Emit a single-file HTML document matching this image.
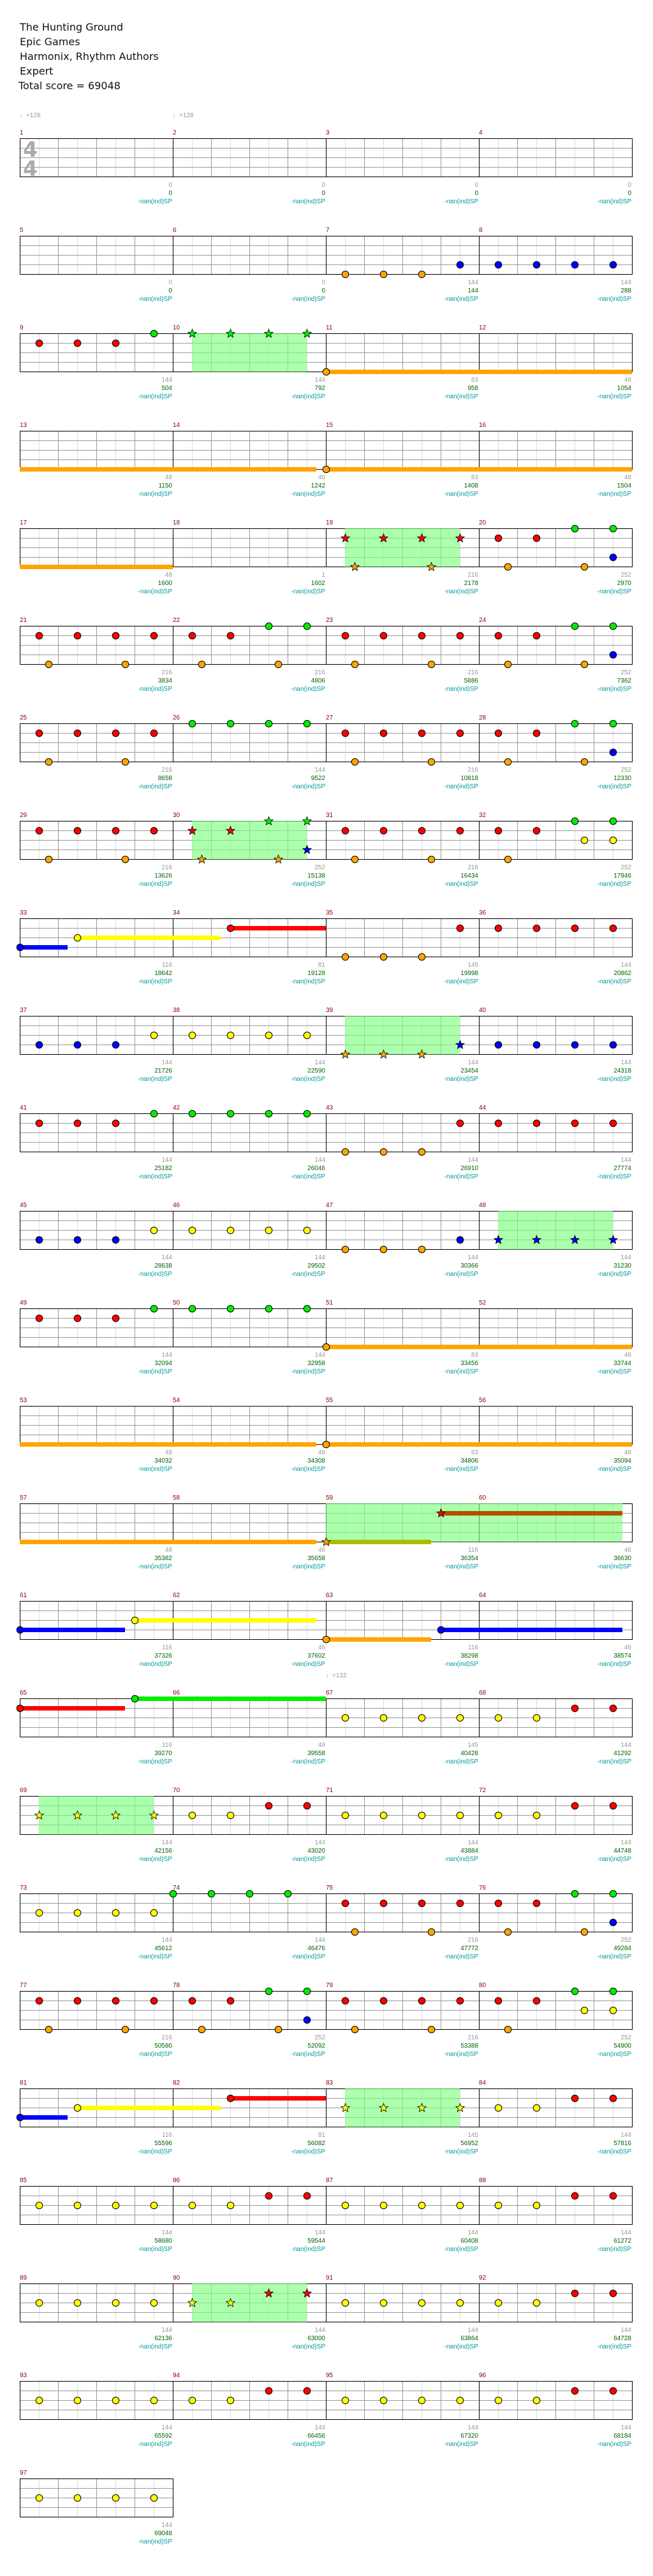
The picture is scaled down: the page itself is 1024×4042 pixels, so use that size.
<!DOCTYPE html>
<html><head><meta charset="utf-8">
<style>
html,body{margin:0;padding:0;background:#fff;}
svg{display:block;}
.t{font-family:"DejaVu Sans","Liberation Sans",sans-serif;font-size:16px;fill:#111;}
.s{font-family:"Liberation Sans",sans-serif;font-size:10px;}
</style></head>
<body>
<svg id="sv" xmlns="http://www.w3.org/2000/svg" width="1024" height="4042" viewBox="0 0 1024 4042">
<rect width="1024" height="4042" fill="#fff"/>
<text class="t" x="31" y="48">The Hunting Ground</text>
<text class="t" x="31" y="71">Epic Games</text>
<text class="t" x="31" y="94">Harmonix, Rhythm Authors</text>
<text class="t" x="31" y="117">Expert</text>
<text class="t" x="29" y="140">Total score = 69048</text>
</svg>
<script>
(function(){
var sv=document.getElementById('sv'),NS='http://www.w3.org/2000/svg',out='';
var X0=31,MW=240,HB=30,T0=217,RS=153;
var COL=['#00ee00','#ff0000','#ffff00','#0000ff','#ffa500'];
var LBL={
1:[0,0],2:[0,0],3:[0,0],4:[0,0],5:[0,0],6:[0,0],7:[144,144],8:[144,288],
9:[144,504],10:[144,792],11:[83,958],12:[48,1054],13:[48,1150],14:[46,1242],15:[83,1408],16:[48,1504],
17:[48,1600],18:[1,1602],19:[216,2178],20:[252,2970],21:[216,3834],22:[216,4806],23:[216,5886],24:[252,7362],
25:[216,8658],26:[144,9522],27:[216,10818],28:[252,12330],29:[216,13626],30:[252,15138],31:[216,16434],32:[252,17946],
33:[116,18642],34:[81,19128],35:[145,19998],36:[144,20862],37:[144,21726],38:[144,22590],39:[144,23454],40:[144,24318],
41:[144,25182],42:[144,26046],43:[144,26910],44:[144,27774],45:[144,28638],46:[144,29502],47:[144,30366],48:[144,31230],
49:[144,32094],50:[144,32958],51:[83,33456],52:[48,33744],53:[48,34032],54:[46,34308],55:[83,34806],56:[48,35094],
57:[48,35382],58:[46,35658],59:[116,36354],60:[46,36630],61:[116,37326],62:[46,37602],63:[116,38298],64:[46,38574],
65:[116,39270],66:[48,39558],67:[145,40428],68:[144,41292],69:[144,42156],70:[144,43020],71:[144,43884],72:[144,44748],
73:[144,45612],74:[144,46476],75:[216,47772],76:[252,49284],77:[216,50580],78:[252,52092],79:[216,53388],80:[252,54900],
81:[116,55596],82:[81,56082],83:[145,56952],84:[144,57816],85:[144,58680],86:[144,59544],87:[144,60408],88:[144,61272],
89:[144,62136],90:[144,63000],91:[144,63864],92:[144,64728],93:[144,65592],94:[144,66456],95:[144,67320],96:[144,68184],97:[144,69048]};
var N=[],S=[],SP=[];
function G(m,p){return (m-1)*8+p;}
function n(m,l,p,st){N.push({g:G(m,p),l:l,st:st||0});}
function sus(m,l,p,len,col,st){N.push({g:G(m,p),l:l,st:st||0});S.push({a:G(m,p),b:G(m,p)+len,l:l,c:col||COL[l]});}
function sp(m,p,len){SP.push([G(m,p),G(m,p)+len]);}
function A(m){[1,3,5,7].forEach(function(p){n(m,1,p);});n(m,4,1.5);n(m,4,5.5);}
function B(m){n(m,1,1);n(m,1,3);n(m,0,5);n(m,0,7);n(m,3,7);n(m,4,1.5);n(m,4,5.5);}
function C(m){n(m,1,1);n(m,1,3);n(m,0,5);n(m,0,7);n(m,2,5.5);n(m,2,7);n(m,4,1.5);}
function Y4(m){[1,3,5,7].forEach(function(p){n(m,2,p);});}
function YR(m){n(m,2,1);n(m,2,3);n(m,1,5);n(m,1,7);}
function L4(m,l){[1,3,5,7].forEach(function(p){n(m,l,p);});}
function L3(m,l,l2){[1,3,5].forEach(function(p){n(m,l,p);});n(m,l2,7);}
// measures
L3(7,4,3);L4(8,3);
L3(9,1,0);sp(10,1,6);[1,3,5,7].forEach(function(p){n(10,0,p,1);});
sus(11,4,0,31.5);sus(15,4,0,24);
sp(19,1,6);[1,3,5,7].forEach(function(p){n(19,1,p,1);});n(19,4,1.5,1);n(19,4,5.5,1);
B(20);A(21);n(22,1,1);n(22,1,3);n(22,0,5);n(22,0,7);n(22,4,1.5);n(22,4,5.5);A(23);B(24);
A(25);L4(26,0);A(27);B(28);
A(29);sp(30,1,6);n(30,1,1,1);n(30,1,3,1);n(30,0,5,1);n(30,0,7,1);n(30,3,7,1);n(30,4,1.5,1);n(30,4,5.5,1);A(31);C(32);
sus(33,3,0,2.5);sus(33,2,3,7.5);sus(34,1,3,5);L3(35,4,1);L4(36,1);
L3(37,3,2);L4(38,2);sp(39,1,6);[1,3,5].forEach(function(p){n(39,4,p,1);});n(39,3,7,1);L4(40,3);
L3(41,1,0);L4(42,0);L3(43,4,1);L4(44,1);
L3(45,3,2);L4(46,2);L3(47,4,3);sp(48,1,6);[1,3,5,7].forEach(function(p){n(48,3,p,1);});
L3(49,1,0);L4(50,0);sus(51,4,0,31.5);sus(55,4,0,31.5);
sp(59,0,15.5);sus(59,4,0,5.5,'#a8c000',1);sus(59,1,6,9.5,'#b05000',1);
sus(61,3,0,5.5);sus(61,2,6,9.5);sus(63,4,0,5.5);sus(63,3,6,9.5);
sus(65,1,0,5.5);sus(65,0,6,10);Y4(67);YR(68);
sp(69,1,6);[1,3,5,7].forEach(function(p){n(69,2,p,1);});YR(70);Y4(71);YR(72);
Y4(73);[0,2,4,6].forEach(function(p){n(74,0,p);});A(75);B(76);
A(77);B(78);A(79);C(80);
sus(81,3,0,2.5);sus(81,2,3,7.5);sus(82,1,3,5);sp(83,1,6);[1,3,5,7].forEach(function(p){n(83,2,p,1);});YR(84);
Y4(85);YR(86);Y4(87);YR(88);
Y4(89);sp(90,1,6);n(90,2,1,1);n(90,2,3,1);n(90,1,5,1);n(90,1,7,1);Y4(91);YR(92);
Y4(93);YR(94);Y4(95);YR(96);Y4(97);
function rowOf(g){return Math.floor(g/32);}
function xy(g){var r=rowOf(g);return [X0+(g-r*32)*HB,T0+r*RS];}
var TOT=97,ROWS=25;
var gridS='',spS='',susS='',noteS='',txtS='';
for(var r=0;r<ROWS;r++){
  var T=T0+r*RS,nm=Math.min(4,TOT-4*r),W=nm*MW,xe=X0+W;
  // half-beat lines
  for(var i=1;i<nm*8;i++){var x=X0+i*HB;var c=(i%8==0)?'#000':(i%2==0?'#999':'#ddd');
    if(c=='#ddd')gridS+='<line x1="'+(x+.5)+'" y1="'+T+'" x2="'+(x+.5)+'" y2="'+(T+60)+'" stroke="'+c+'"/>';}
  for(var k=1;k<4;k++)gridS+='<line x1="'+X0+'" y1="'+(T+k*15+.5)+'" x2="'+xe+'" y2="'+(T+k*15+.5)+'" stroke="#999"/>';
  for(var i=1;i<nm*8;i++){if(i%2)continue;var x=X0+i*HB;var c=(i%8==0)?'#000':'#999';
    gridS+='<line x1="'+(x+.5)+'" y1="'+T+'" x2="'+(x+.5)+'" y2="'+(T+60)+'" stroke="'+c+'"/>';}
  gridS+='<rect x="'+(X0+.5)+'" y="'+(T+.5)+'" width="'+W+'" height="60" fill="none" stroke="#000"/>';
  for(var j=0;j<nm;j++){var m=4*r+j+1,mx=X0+j*MW,ex=mx+MW;
    txtS+='<text class="s" x="'+mx+'" y="'+(T-6)+'" fill="#8b0000">'+m+'</text>';
    var L=LBL[m];
    txtS+='<text class="s" x="'+(ex-1)+'" y="'+(T+76)+'" fill="#999" text-anchor="end">'+L[0]+'</text>';
    txtS+='<text class="s" x="'+(ex-1)+'" y="'+(T+89)+'" fill="#006400" text-anchor="end">'+L[1]+'</text>';
    txtS+='<text class="s" x="'+(ex-1)+'" y="'+(T+102)+'" fill="#009999" text-anchor="end">-nan(ind)SP</text>';
  }
}
SP.forEach(function(s){var a=xy(s[0]);var w=(s[1]-s[0])*HB;
  spS+='<rect x="'+a[0]+'" y="'+a[1]+'" width="'+w+'" height="60.5" fill="#7fff7f" fill-opacity="0.65"/>';});
S.forEach(function(s){var a=s.a;while(a<s.b-0.001){var r=rowOf(a);var end=Math.min(s.b,(r+1)*32);
  var p=xy(a);var w=(end-a)*HB;susS+='<rect x="'+p[0]+'" y="'+(p[1]+s.l*15-3)+'" width="'+w+'" height="7" fill="'+s.c+'"/>';a=end;}});
function star(cx,cy,R,ri){var pts=[];for(var i=0;i<10;i++){var rr=i%2?ri:R;var an=-Math.PI/2+i*Math.PI/5;pts.push((cx+rr*Math.cos(an)).toFixed(1)+','+(cy+rr*Math.sin(an)).toFixed(1));}return pts.join(' ');}
N.forEach(function(o){var p=xy(o.g);var cx=p[0]+.5,cy=p[1]+o.l*15+.5;
  if(o.st)noteS+='<polygon points="'+star(cx,cy,7,3)+'" fill="'+COL[o.l]+'" stroke="#000" stroke-width="0.8"/>';
  else noteS+='<circle cx="'+cx+'" cy="'+cy+'" r="5.3" fill="'+COL[o.l]+'" stroke="#000" stroke-width="1"/>';});
txtS+='<text x="36" y="246" font-family="DejaVu Sans,sans-serif" font-weight="bold" font-size="33" fill="#aaa">4</text>';
txtS+='<text x="36" y="276" font-family="DejaVu Sans,sans-serif" font-weight="bold" font-size="33" fill="#aaa">4</text>';
txtS+='<text class="s" x="31" y="184" fill="#999">\u2669=128</text>';
txtS+='<text class="s" x="271" y="184" fill="#999">\u2669=128</text>';
txtS+='<text class="s" x="511" y="2632" fill="#999">\u2669=132</text>';
sv.insertAdjacentHTML('beforeend',gridS+spS+susS+noteS+txtS);
})();
</script>
</body></html>
